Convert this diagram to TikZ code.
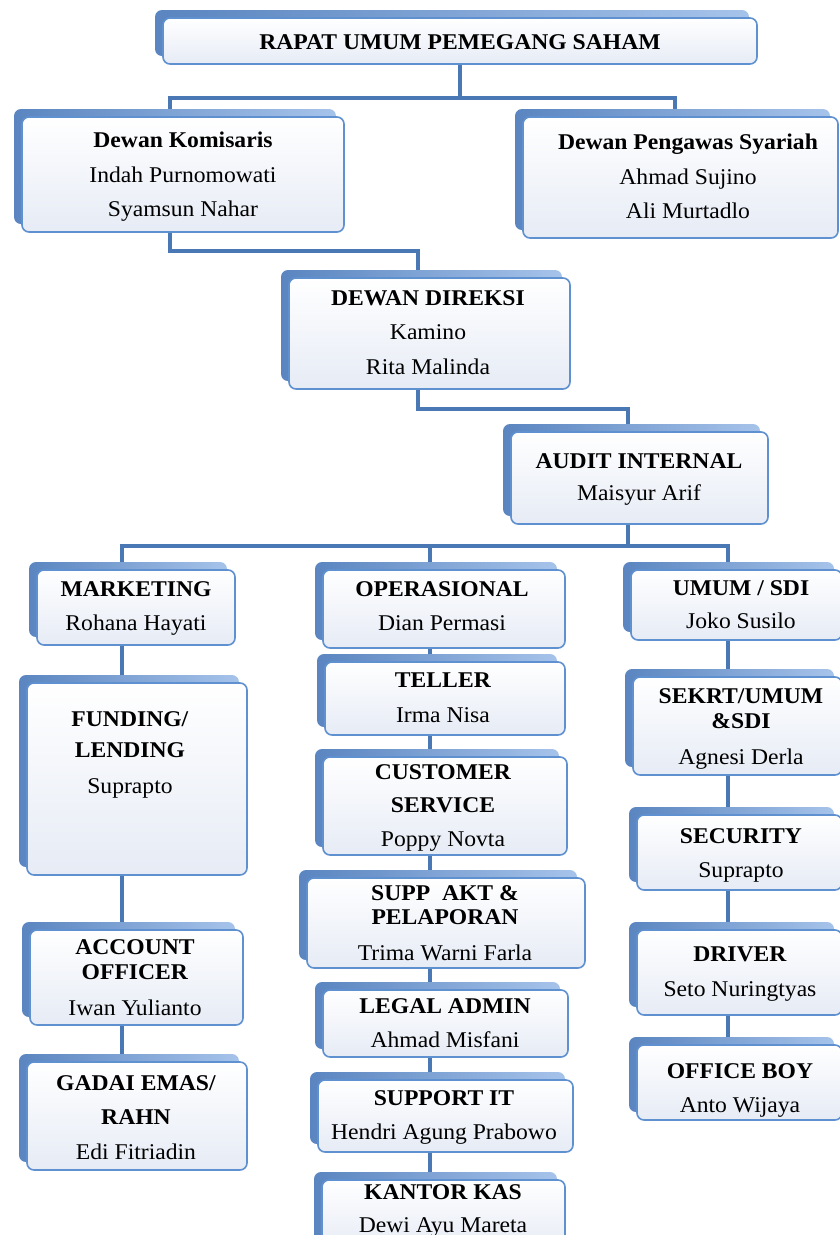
\documentclass[tikz,border=0pt]{standalone}
\usepackage{fontspec}
\setmainfont{Liberation Serif}[FakeStretch=1.05]
\usetikzlibrary{shadows,fit}
\definecolor{conncol}{HTML}{4A78B4}
\definecolor{bord}{HTML}{5F90D0}
\definecolor{shdA}{HTML}{5A85C0}
\definecolor{shdB}{HTML}{A6C3EA}
\definecolor{boxB}{HTML}{E6EBF5}
\pgfdeclarelayer{bg}
\pgfsetlayers{bg,main}
\tikzset{
  orgbox/.style={rounded corners=7pt, draw=bord, line width=1.6pt, top color=white, bottom color=boxB, inner sep=0pt,
    general shadow={shadow xshift=-8pt, shadow yshift=8pt, left color=shdA, right color=shdB}},
  lbl/.style={anchor=north, align=center, inner sep=0pt, font=\fontsize{22.5}{34.5}\selectfont},
  conn/.style={draw=conncol, line width=4pt},
}
\begin{document}
\begin{tikzpicture}[x=1pt,y=-1pt]
\useasboundingbox (0,0) rectangle (840,1235);
% boxes
\node[orgbox, fit={(163,18) (757,64)}] (rups) {};
\node[orgbox, fit={(22,117) (344,232)}] (dk) {};
\node[orgbox, fit={(523,117) (838,238)}] (dps) {};
\node[orgbox, fit={(289,278) (570,389)}] (dd) {};
\node[orgbox, fit={(511,432) (768,524)}] (ai) {};
\node[orgbox, fit={(37,570) (235,645)}] (mkt) {};
\node[orgbox, fit={(27,683) (247,875)}] (fund) {};
\node[orgbox, fit={(30,930) (243,1025)}] (ao) {};
\node[orgbox, fit={(27,1062) (247,1170)}] (gadai) {};
\node[orgbox, fit={(323,570) (565,648)}] (ops) {};
\node[orgbox, fit={(325,662) (565,735)}] (teller) {};
\node[orgbox, fit={(323,757) (567,855)}] (cs) {};
\node[orgbox, fit={(307,878) (585,968)}] (supp) {};
\node[orgbox, fit={(323,990) (568,1057)}] (legal) {};
\node[orgbox, fit={(318,1080) (573,1152)}] (sit) {};
\node[orgbox, fit={(322,1180) (565,1250)}] (kas) {};
\node[orgbox, fit={(631,570) (842,640)}] (umum) {};
\node[orgbox, fit={(633,677) (842,775)}] (sek) {};
\node[orgbox, fit={(637,815) (842,890)}] (sec) {};
\node[orgbox, fit={(637,930) (842,1015)}] (drv) {};
\node[orgbox, fit={(637,1045) (842,1120)}] (ob) {};
% labels
\node[lbl] (rupsT) at (460,34) {\textbf{RAPAT UMUM PEMEGANG SAHAM}};
\node[lbl] (dkT) at (183,132) {\textbf{Dewan Komisaris}\\Indah Purnomowati\\Syamsun Nahar};
\node[lbl] (dpsT) at (688,134) {\textbf{Dewan Pengawas Syariah}\\Ahmad Sujino\\Ali Murtadlo};
\node[lbl] (ddT) at (428,290) {\textbf{DEWAN DIREKSI}\\Kamino\\Rita Malinda};
\node[lbl] (aiT) at (639,453) {\textbf{AUDIT INTERNAL}\\[-2.5pt]Maisyur Arif};
\node[lbl] (mktT) at (136,581) {\textbf{MARKETING}\\[-0.5pt]Rohana Hayati};
\node[lbl] (fundT) at (130,711) {\textbf{FUNDING/}\\[-3.5pt]\textbf{LENDING}\\[1.5pt]Suprapto};
\node[lbl] (aoT) at (135,939) {\textbf{ACCOUNT}\\[-9.5pt]\textbf{OFFICER}\\[1.5pt]Iwan Yulianto};
\node[lbl] (gadaiT) at (136,1075) {\textbf{GADAI EMAS/}\\\textbf{RAHN}\\Edi Fitriadin};
\node[lbl] (opsT) at (442,581) {\textbf{OPERASIONAL}\\Dian Permasi};
\node[lbl] (tellerT) at (443,673) {\textbf{TELLER}\\Irma Nisa};
\node[lbl] (csT) at (443,764) {\textbf{CUSTOMER}\\[-1.5pt]\textbf{SERVICE}\\Poppy Novta};
\node[lbl] (suppT) at (445,885) {\textbf{SUPP\ \ AKT \&}\\[-10.5pt]\textbf{PELAPORAN}\\[1.5pt]Trima Warni Farla};
\node[lbl] (legalT) at (445,998) {\textbf{LEGAL ADMIN}\\Ahmad Misfani};
\node[lbl] (sitT) at (444,1090) {\textbf{SUPPORT IT}\\Hendri Agung Prabowo};
\node[lbl] (kasT) at (443,1184) {\textbf{KANTOR KAS}\\[-1.5pt]Dewi Ayu Mareta};
\node[lbl] (umumT) at (741,580) {\textbf{UMUM / SDI}\\[-1.5pt]Joko Susilo};
\node[lbl] (sekT) at (741,688) {\textbf{SEKRT/UMUM}\\[-9.5pt]\textbf{\&SDI}\\[1.5pt]Agnesi Derla};
\node[lbl] (secT) at (741,828) {\textbf{SECURITY}\\Suprapto};
\node[lbl] (drvT) at (740,947) {\textbf{DRIVER}\\Seto Nuringtyas};
\node[lbl] (obT) at (740,1063) {\textbf{OFFICE BOY}\\Anto Wijaya};
% lanes
\coordinate (xl) at (122,0);
\coordinate (xm) at (430,0);
\coordinate (xr) at (728,0);
\begin{pgfonlayer}{bg}
\draw[conn] (rups.south) -- ++(0,33) coordinate (j1) -| ([xshift=-13pt]dk.north);
\draw[conn] (j1) -| ([xshift=-5.5pt]dps.north);
\draw[conn] ([xshift=-13pt]dk.south) -- ++(0,18) -| ([xshift=-11.5pt]dd.north);
\draw[conn] ([xshift=-11.5pt]dd.south) -- ++(0,19) -| ([xshift=-11.5pt]ai.north);
\draw[conn] ([xshift=-11.5pt]ai.south) -- ++(0,21) coordinate (j2) -| (mkt.north -| xl);
\draw[conn] (j2) -| (ops.north -| xm);
\draw[conn] (j2) -| (umum.north -| xr);
\draw[conn] (mkt.south -| xl) -- (fund.north -| xl);
\draw[conn] (fund.south -| xl) -- (ao.north -| xl);
\draw[conn] (ao.south -| xl) -- (gadai.north -| xl);
\draw[conn] (ops.south -| xm) -- (teller.north -| xm);
\draw[conn] (teller.south -| xm) -- (cs.north -| xm);
\draw[conn] (cs.south -| xm) -- (supp.north -| xm);
\draw[conn] (supp.south -| xm) -- (legal.north -| xm);
\draw[conn] (legal.south -| xm) -- (sit.north -| xm);
\draw[conn] (sit.south -| xm) -- (kas.north -| xm);
\draw[conn] (umum.south -| xr) -- (sek.north -| xr);
\draw[conn] (sek.south -| xr) -- (sec.north -| xr);
\draw[conn] (sec.south -| xr) -- (drv.north -| xr);
\draw[conn] (drv.south -| xr) -- (ob.north -| xr);
\end{pgfonlayer}
\end{tikzpicture}
\end{document}
